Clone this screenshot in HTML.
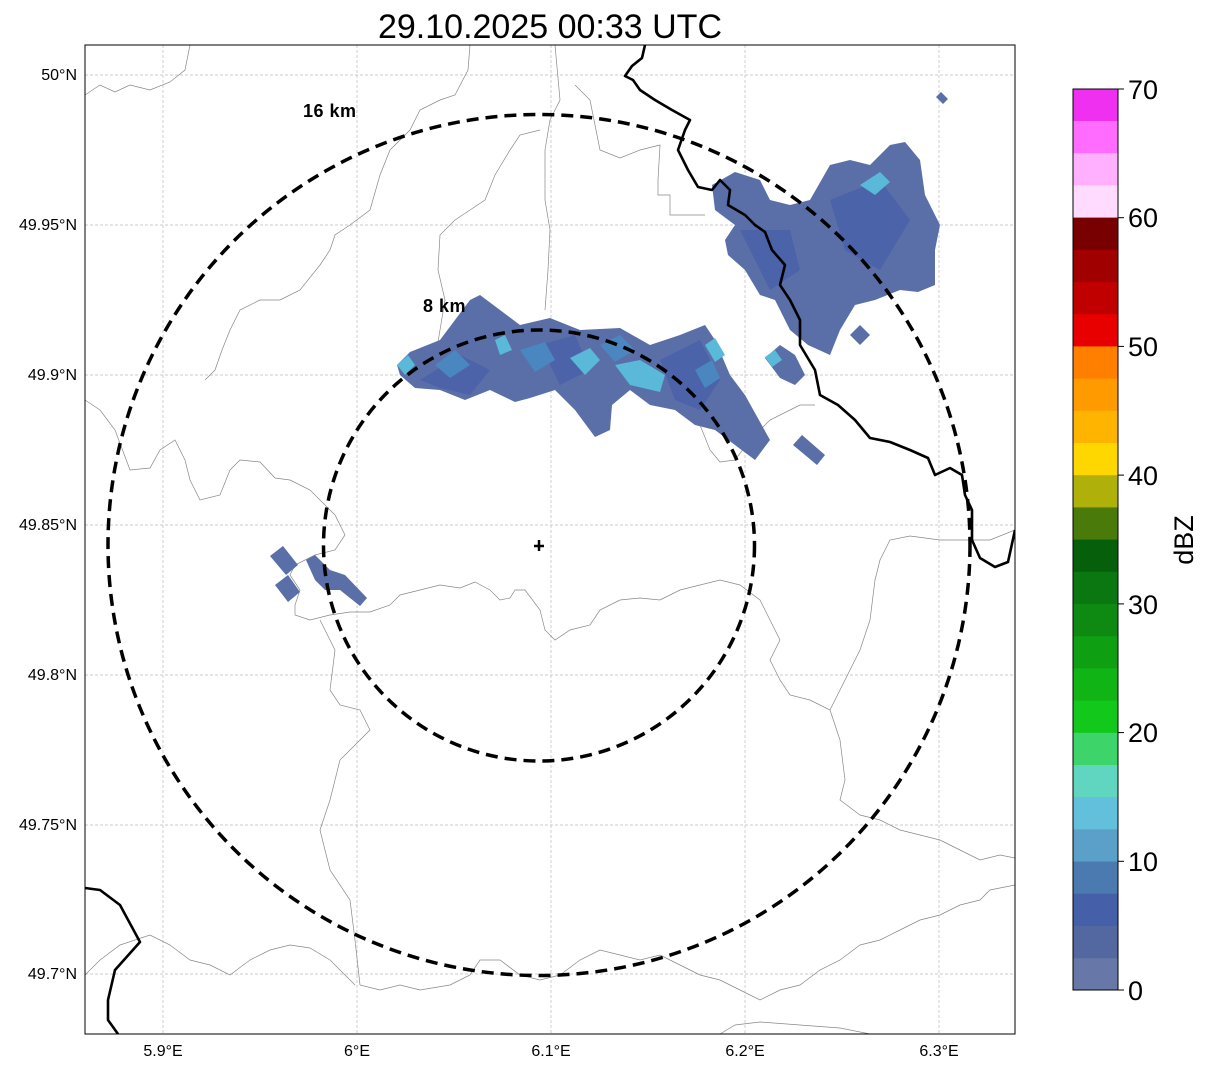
<!DOCTYPE html>
<html><head><meta charset="utf-8"><style>
body{margin:0;background:#fff;}
svg{display:block;font-family:"Liberation Sans",sans-serif;}
</style></head><body>
<svg width="1207" height="1069" viewBox="0 0 1207 1069" xmlns="http://www.w3.org/2000/svg">
<rect width="1207" height="1069" fill="#fff"/>
<text x="550" y="38" font-size="34" text-anchor="middle">29.10.2025 00:33 UTC</text>
<defs><clipPath id="c"><rect x="85" y="45" width="930" height="989"/></clipPath></defs>
<g clip-path="url(#c)">
<g stroke="#bbb" stroke-width="0.7" stroke-dasharray="3,2">
<line x1="163" y1="45" x2="163" y2="1034"/><line x1="357" y1="45" x2="357" y2="1034"/><line x1="551" y1="45" x2="551" y2="1034"/><line x1="745" y1="45" x2="745" y2="1034"/><line x1="939" y1="45" x2="939" y2="1034"/>
<line x1="85" y1="75" x2="1015" y2="75"/><line x1="85" y1="225" x2="1015" y2="225"/><line x1="85" y1="375" x2="1015" y2="375"/><line x1="85" y1="525" x2="1015" y2="525"/><line x1="85" y1="675" x2="1015" y2="675"/><line x1="85" y1="825" x2="1015" y2="825"/><line x1="85" y1="974" x2="1015" y2="974"/>
</g>
<g fill="none" stroke="#888" stroke-width="0.7">
<polyline points="85,95 100,85 115,92 130,85 150,90 170,82 185,70 190,45"/>
<polyline points="470,45 468,70 455,95 440,100 420,110 410,130 390,150 380,175 370,210 350,225 335,235 330,250 320,265 300,290 280,300 260,300 240,310 230,330 222,350 215,370 205,380"/>
<polyline points="540,130 520,135 510,150 495,175 485,200 470,210 455,220 440,235 438,270 445,300 440,330 435,360"/>
<polyline points="555,45 560,100 550,120 545,150 545,200 550,230 548,270 545,310"/>
<polyline points="575,85 590,100 600,150 620,158 640,150 660,145 658,180 658,195 670,195 670,215 705,215"/>
<polyline points="85,400 100,410 115,430 130,470 150,468 160,450 175,440 185,460 190,480 200,500 220,495 230,470 240,460 260,462 275,478 290,480 310,490 320,500 335,515 345,535 335,550 315,555 295,565 290,575 300,590 295,605 295,615 310,620 330,615 350,612 370,612 390,605 400,595 420,590 440,585 460,588 475,582 490,590 500,600 510,598 515,590 525,590 540,610 545,630 555,640 570,630 590,625 600,610 620,600 640,598 660,600 680,590 700,585 720,580 740,585 760,600 770,620 780,640 770,660 780,680 790,695 810,700 830,710 840,740 845,780 840,800 860,815 880,820 900,830 940,840 960,850 980,860 1000,855 1015,858"/>
<polyline points="700,425 710,450 720,462 735,460 750,440 770,420 800,405 815,405"/>
<polyline points="320,620 335,650 330,690 340,705 360,710 370,730 340,760 330,800 320,830 330,870 350,900 355,940 360,985 380,990 400,985 420,990 450,985 470,975 480,960 500,960 520,975 540,980 560,975 580,960 600,950 620,955 640,960 660,955 680,965 700,975 720,980 740,990 760,1000 780,990 800,985 820,970 840,960 860,945 880,940 900,930 920,920 940,915 960,905 980,900 990,890 1015,885"/>
<polyline points="85,975 100,960 120,945 150,935 170,945 190,960 210,965 230,975 250,960 270,950 290,945 310,948 330,960 345,975 355,985"/>
<polyline points="720,1034 735,1025 760,1022 800,1025 840,1028 870,1034"/>
<polyline points="1015,530 990,540 940,540 910,536 890,540 880,560 875,580 870,620 860,650 850,670 840,690 830,710"/>
</g>
<g fill="#5a6ea8">
<polygon points="397,365 410,352 440,340 470,300 480,295 500,310 520,325 550,318 580,330 620,328 650,345 680,335 705,325 715,340 730,375 745,395 770,440 755,460 735,445 715,430 695,425 675,410 650,405 630,390 612,405 610,430 595,437 575,410 555,390 530,398 515,402 490,390 465,400 440,390 415,388 400,375"/>
<polygon points="712,185 735,172 760,180 770,200 790,205 810,200 830,165 850,160 870,165 890,145 905,142 920,160 925,195 940,225 935,250 935,285 918,292 900,290 875,300 855,305 840,330 830,355 808,345 790,330 775,300 760,295 745,270 728,255 725,240 735,225 715,210"/>
<polygon points="765,358 780,345 795,355 805,375 795,385 780,378"/>
<polygon points="793,445 802,435 825,455 817,465"/>
<polygon points="850,335 860,325 870,335 860,345"/>
<polygon points="936,97 941,92 948,99 943,104"/>
<polygon points="270,556 283,546 298,565 286,575"/>
<polygon points="275,585 288,575 300,592 288,602"/>
<polygon points="306,560 315,555 330,570 345,575 367,598 360,606 340,590 325,590 315,580"/>
</g>
<g fill="#4a62a8" opacity="0.9">
<polygon points="420,380 460,355 490,370 470,395 440,388"/>
<polygon points="660,360 700,340 720,380 700,410 675,400"/>
<polygon points="830,200 880,180 910,220 880,270 845,250"/>
<polygon points="540,345 575,335 590,370 560,385"/>
<polygon points="740,230 790,230 800,270 770,290"/>
</g>
<g fill="#5ab8d8">
<polygon points="397,365 408,355 415,365 405,375"/>
<polygon points="570,358 590,348 600,360 585,375"/>
<polygon points="615,365 640,360 665,375 660,392 630,385"/>
<polygon points="705,345 715,338 725,355 715,362"/>
<polygon points="495,340 505,335 512,350 500,355"/>
<polygon points="860,185 880,172 890,182 875,195"/>
<polygon points="765,357 775,350 782,360 772,367"/>
</g>
<g fill="#4a86c0">
<polygon points="435,365 455,350 470,365 450,378"/>
<polygon points="520,350 545,342 555,360 535,372"/>
<polygon points="600,345 620,335 635,350 615,362"/>
<polygon points="695,370 712,360 720,378 705,388"/>
</g>
<g fill="none" stroke="#000" stroke-width="2.6" stroke-linejoin="round">
<polyline points="645,45 642,58 632,66 625,76 633,80 640,90 655,100 672,110 690,120 685,130 678,150 688,170 698,187 712,190 720,180 730,190 728,205 745,215 755,225 765,232 772,250 785,265 780,285 790,300 800,320 800,345 815,370 820,395 838,405 855,420 870,438 890,442 910,450 928,458 935,475 950,468 962,475 965,495 972,510 972,540 980,558 995,567 1008,562 1015,530"/>
<polyline points="85,888 100,890 120,905 140,942 115,970 108,1000 108,1020 118,1034"/>
</g>
<g fill="none" stroke="#000" stroke-width="3.5" stroke-dasharray="12,7">
<ellipse cx="539" cy="545" rx="431" ry="430.5"/>
<ellipse cx="539" cy="545.5" rx="215.5" ry="215.5"/>
</g>
<path d="M539,540v11M534,546h10" stroke="#000" stroke-width="2.5"/>
<text x="303" y="117" font-size="18" font-weight="bold" letter-spacing="0.5">16 km</text>
<text x="423" y="312" font-size="18" font-weight="bold" letter-spacing="0.5">8 km</text>
</g>
<rect x="85" y="45" width="930" height="989" fill="none" stroke="#000" stroke-width="1"/>
<g font-size="16" text-anchor="end">
<text x="77" y="80">50°N</text><text x="77" y="230">49.95°N</text><text x="77" y="380">49.9°N</text><text x="77" y="530">49.85°N</text><text x="77" y="680">49.8°N</text><text x="77" y="830">49.75°N</text><text x="77" y="979">49.7°N</text>
</g>
<g font-size="16" text-anchor="middle">
<text x="163" y="1056">5.9°E</text><text x="357" y="1056">6°E</text><text x="551" y="1056">6.1°E</text><text x="745" y="1056">6.2°E</text><text x="939" y="1056">6.3°E</text>
</g>
<g>
<rect x="1073" y="957.8" width="45" height="32.2" fill="#6677a8"/><rect x="1073" y="925.6" width="45" height="32.6" fill="#5368a0"/><rect x="1073" y="893.4" width="45" height="32.6" fill="#4560a8"/><rect x="1073" y="861.2" width="45" height="32.6" fill="#4a7ab0"/>
<rect x="1073" y="829" width="45" height="32.6" fill="#5aa0c8"/><rect x="1073" y="796.8" width="45" height="32.6" fill="#62c0dc"/><rect x="1073" y="764.6" width="45" height="32.6" fill="#60d6c0"/><rect x="1073" y="732.4" width="45" height="32.6" fill="#3dd56a"/>
<rect x="1073" y="700.2" width="45" height="32.6" fill="#12c81a"/><rect x="1073" y="668" width="45" height="32.6" fill="#10b515"/><rect x="1073" y="635.8" width="45" height="32.6" fill="#0f9f12"/><rect x="1073" y="603.6" width="45" height="32.6" fill="#0e8a12"/>
<rect x="1073" y="571.4" width="45" height="32.6" fill="#0b7710"/><rect x="1073" y="539.2" width="45" height="32.6" fill="#065f0a"/><rect x="1073" y="507" width="45" height="32.6" fill="#4a7a0a"/><rect x="1073" y="474.8" width="45" height="32.6" fill="#b0b00a"/>
<rect x="1073" y="442.6" width="45" height="32.6" fill="#ffd700"/><rect x="1073" y="410.4" width="45" height="32.6" fill="#ffb400"/><rect x="1073" y="378.2" width="45" height="32.6" fill="#ff9a00"/><rect x="1073" y="346" width="45" height="32.6" fill="#ff7f00"/>
<rect x="1073" y="313.8" width="45" height="32.6" fill="#e80000"/><rect x="1073" y="281.6" width="45" height="32.6" fill="#c00000"/><rect x="1073" y="249.4" width="45" height="32.6" fill="#a00000"/><rect x="1073" y="217.2" width="45" height="32.6" fill="#780000"/>
<rect x="1073" y="185" width="45" height="32.6" fill="#ffdcff"/><rect x="1073" y="152.8" width="45" height="32.6" fill="#ffb0ff"/><rect x="1073" y="120.6" width="45" height="32.6" fill="#ff6cff"/><rect x="1073" y="89" width="45" height="32" fill="#f030f0"/>
<rect x="1073" y="89" width="45" height="901" fill="none" stroke="#000" stroke-width="1"/>
</g>
<g stroke="#000" stroke-width="1">
<line x1="1118" y1="990" x2="1124" y2="990"/><line x1="1118" y1="861.3" x2="1124" y2="861.3"/><line x1="1118" y1="732.6" x2="1124" y2="732.6"/><line x1="1118" y1="603.9" x2="1124" y2="603.9"/><line x1="1118" y1="475.1" x2="1124" y2="475.1"/><line x1="1118" y1="346.4" x2="1124" y2="346.4"/><line x1="1118" y1="217.7" x2="1124" y2="217.7"/><line x1="1118" y1="89" x2="1124" y2="89"/>
</g>
<g font-size="27">
<text x="1128" y="1000">0</text><text x="1128" y="871">10</text><text x="1128" y="742">20</text><text x="1128" y="614">30</text><text x="1128" y="485">40</text><text x="1128" y="356">50</text><text x="1128" y="227">60</text><text x="1128" y="99">70</text>
</g>
<text transform="translate(1193,540) rotate(-90)" font-size="27" text-anchor="middle">dBZ</text>
</svg>
</body></html>
